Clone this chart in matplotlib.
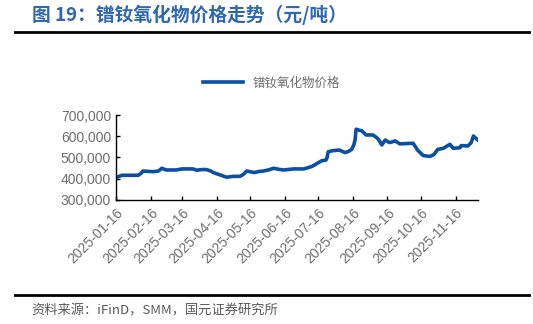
import matplotlib.pyplot as plt
import matplotlib.dates as mdates
import pandas as pd

plt.rcParams['font.family'] = ['Liberation Sans', 'Noto Sans CJK SC', 'DejaVu Sans']

# price readings (yuan/ton), days after 2025-01-16
days = [0, 2, 5, 20, 23, 24, 33, 38, 41, 45, 54, 59, 69, 72, 77, 81, 85, 87,
        93, 99, 105, 111, 114, 117, 121, 124, 128, 132, 137, 141, 146, 150,
        159, 168, 172, 175, 178, 180, 184, 188, 189, 190, 194, 200, 205, 208,
        211, 213, 214, 215, 218, 220, 224, 230, 233, 235, 238, 241, 245, 250,
        254, 266, 270, 275, 281, 284, 285, 288, 293, 299, 302, 308, 309, 315,
        318, 320, 324]
prices = [407000, 409000, 416000, 416000, 428000, 436000, 433000, 436000,
          449000, 441000, 441000, 446000, 446000, 440000, 443000, 443000,
          436000, 429000, 418000, 407000, 411000, 411000, 420000, 436000,
          432000, 429000, 434000, 436000, 442000, 449000, 444000, 441000,
          446000, 446000, 452000, 457000, 465000, 472000, 484000, 488000,
          500000, 527000, 532000, 535000, 523000, 528000, 538000, 560000,
          582000, 633000, 628000, 626000, 606000, 606000, 595000, 585000,
          559000, 582000, 570000, 578000, 564000, 567000, 535000, 509000,
          505000, 512000, 516000, 538000, 543000, 562000, 543000, 546000,
          556000, 554000, 570000, 601000, 582000]

start = pd.Timestamp('2025-01-16')
dates = [start + pd.Timedelta(days=d) for d in days]
tick_dates = pd.date_range('2025-01-01', periods=11, freq='MS') + pd.Timedelta(days=15)

fig = plt.figure(figsize=(5.33, 3.24), dpi=100)
ax = fig.add_axes([0.2176, 0.383, 0.679, 0.262])

ax.plot(dates, prices, color='#0b4fa3', lw=2.6, label='镨钕氧化物价格')

ax.set_ylim(300000, 700000)
ax.set_yticks([300000, 400000, 500000, 600000, 700000])
ax.yaxis.set_major_formatter(plt.FuncFormatter(lambda v, p: f'{int(v):,}'))
ax.set_xlim(start, start + pd.Timedelta(days=324))
ax.set_xticks(tick_dates)
ax.xaxis.set_major_formatter(mdates.DateFormatter('%Y-%m-%d'))
plt.setp(ax.get_xticklabels(), rotation=45, ha='right', rotation_mode='anchor')

for s in ['top', 'right']:
    ax.spines[s].set_visible(False)
for s in ['left', 'bottom']:
    ax.spines[s].set_linewidth(1.0)
ax.tick_params(axis='both', direction='in', length=3, width=1,
               labelsize=10, labelcolor='#6e6e6e')
ax.tick_params(axis='x', pad=4)

leg = ax.legend(loc='lower center', bbox_to_anchor=(0.43, 1.17), frameon=False,
                handlelength=3.2, fontsize=9)
for t in leg.get_texts():
    t.set_color('#6e6e6e')
    t.set_family(['Noto Sans CJK SC', 'DejaVu Sans'])

# title and rules
fig.text(0.06, 0.953, '图 19：镨钕氧化物价格走势（元/吨）', color='#2f67b1',
         fontsize=13.5, fontweight='bold', va='center',
         family=['Noto Sans CJK SC', 'DejaVu Sans'])
fig.add_artist(plt.Line2D([0.028, 0.992], [0.9, 0.9], color='black', lw=2))
fig.add_artist(plt.Line2D([0.028, 0.992], [0.088, 0.088], color='black', lw=2))
fig.text(0.058, 0.04, '资料来源：iFinD，SMM，国元证券研究所', color='#595959',
         fontsize=9.5, va='center', family=['Noto Sans CJK SC', 'DejaVu Sans'])

fig.savefig('out.png', dpi=100)
